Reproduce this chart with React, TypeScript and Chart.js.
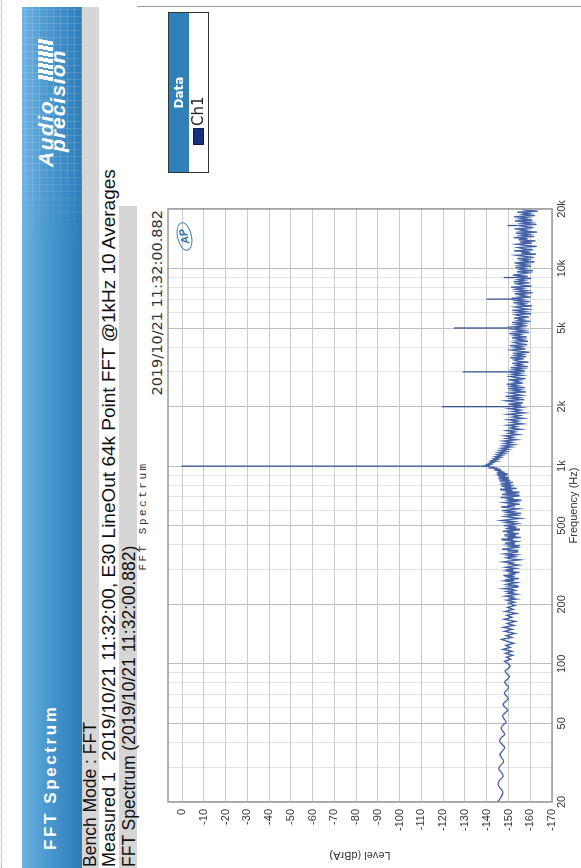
import { useEffect, useRef } from 'react';
import { Chart, registerables } from 'chart.js';

Chart.register(...registerables);

// ---------- axis definitions ----------
const freqTicks = [20, 50, 100, 200, 500, 1000, 2000, 5000, 10000, 20000];
const freqTickLabels = ['20', '50', '100', '200', '500', '1k', '2k', '5k', '10k', '20k'];
const freqMinorGrid = [30, 40, 60, 70, 80, 90, 300, 400, 600, 700, 800, 900, 3000, 4000, 6000, 7000, 8000, 9000];
const levelTicks = [-170, -160, -150, -140, -130, -120, -110, -100, -90, -80, -70, -60, -50, -40, -30, -20, -10, 0];
const levelMin = -170;
const levelMax = 6.5;

// ---------- spectrum (Hz, dBrA) ----------
const band20to100: [number, number][] = [
  [20, -145.0], [21.2, -146.6], [22.4, -147.4], [23.5, -146.2], [24.6, -145.2], [25.8, -146.0], [27.0, -147.5],
  [28.2, -146.8], [29.4, -145.6], [30.6, -146.3], [32.0, -147.8], [33.4, -146.9], [34.8, -146.1], [36.2, -147.2],
  [37.7, -148.2], [39.2, -147.0], [40.8, -145.9], [42.4, -146.8], [44.0, -148.3], [45.6, -147.4], [47.3, -146.6],
  [49.0, -147.5], [50.8, -148.9], [52.6, -148.0], [54.5, -147.3], [56.4, -148.4], [58.4, -149.6], [60.4, -148.3],
  [62.5, -147.6], [64.6, -148.7], [66.8, -149.9], [69.0, -148.9], [71.3, -148.1], [73.7, -149.2], [76.1, -150.1],
  [78.6, -149.0], [81.1, -148.3], [83.7, -149.6], [86.4, -150.4], [89.1, -149.2], [91.9, -148.5], [94.8, -149.9],
  [97.7, -150.8], [100.7, -149.5],
];

const band100to200: [number, number][] = [
  [103, -148.2], [105.5, -151.0], [108, -149.0], [110.5, -152.0], [113, -148.6], [115.7, -151.6], [118.4, -147.5],
  [121.2, -150.8], [124, -148.8], [127, -152.4], [130, -149.3], [133, -146.8], [136, -151.5], [139, -149.0],
  [142.5, -153.0], [146, -148.2], [149.5, -151.8], [153, -147.6], [156.5, -152.5], [160, -149.4], [164, -153.2],
  [168, -148.0], [172, -151.6], [176, -149.2], [180, -153.6], [184, -148.5], [188.5, -152.2], [193, -149.6],
  [197.5, -153.0],
];

const band200to500: [number, number][] = [
  [202.5, -150.2], [205, -152.8], [207.5, -151.0], [210, -149.2], [212.5, -153.6], [215, -150.8], [217.5, -152.2],
  [220, -148.6], [222.5, -151.4], [225, -154.0], [227.5, -150.0], [230, -151.8], [232.5, -149.4], [235, -153.2],
  [237.5, -152.0], [240, -147.8], [242.5, -151.6], [245, -154.4], [247.5, -150.6], [250, -152.4], [252.5, -149.0],
  [255, -150.8], [257.5, -153.8], [260, -151.2], [262.5, -148.4], [265, -152.6], [267.5, -150.4], [270, -154.8],
  [272.5, -151.0], [275, -149.6], [277.5, -152.8], [280, -147.6], [282.5, -151.4], [285, -153.0], [287.5, -150.2],
  [290, -155.0], [292.5, -151.8], [295, -149.2], [297.5, -152.2], [300, -150.0],
  [304, -153.4], [308, -148.8], [312, -151.6], [316, -154.6], [320, -150.4], [324, -152.0], [328, -147.6],
  [332, -151.2], [336, -155.2], [340, -150.8], [344, -149.0], [348, -152.8], [352, -150.0], [356, -153.6],
  [360, -148.2], [364, -151.4], [368, -154.2], [372, -149.6], [376, -152.4], [380, -147.0], [384, -150.6],
  [388, -153.8], [392, -151.0], [396, -155.4], [400, -149.8], [404, -152.6], [408, -148.4], [412, -150.8],
  [416, -154.0], [420, -151.6], [424, -146.8], [428, -152.2], [432, -149.4], [436, -155.6], [440, -150.4],
  [444, -153.0], [448, -148.0], [452, -151.8], [456, -154.8], [460, -149.2], [464, -152.4], [468, -147.4],
  [472, -150.6], [476, -155.0], [480, -151.2], [484, -148.6], [488, -153.4], [492, -150.0], [496, -152.8],
  [500, -147.8],
];

const band500to1k: [number, number][] = [
  [506, -151.6], [512, -154.2], [518, -149.0], [525, -152.6], [531, -146.8], [538, -150.8], [544, -155.4],
  [551, -151.0], [557, -148.4], [564, -153.6], [570, -150.2], [577, -155.8], [583, -149.6], [590, -152.0],
  [596, -147.2], [603, -151.4], [609, -154.6], [616, -150.0], [622, -146.6], [629, -152.8], [635, -149.4],
  [642, -155.2], [648, -151.0], [655, -148.0], [661, -153.4], [668, -150.6], [674, -156.0], [681, -149.2],
  [687, -152.4], [694, -146.4], [700, -151.2], [707, -154.8], [713, -149.8], [720, -147.0], [726, -152.6],
  [733, -150.0], [739, -155.0], [746, -148.6], [752, -151.8], [759, -146.2], [765, -150.4], [772, -153.8],
  [778, -148.2], [785, -151.0], [791, -146.8], [798, -152.4],
  [806, -148.0], [813, -150.6], [820, -146.4], [827, -152.0], [834, -148.8], [841, -145.8], [848, -150.8],
  [855, -147.4], [862, -149.6], [869, -145.4], [876, -150.2], [883, -147.0], [890, -148.6], [897, -145.0],
  [904, -149.4], [911, -146.4], [918, -147.8], [925, -144.6], [932, -148.2], [939, -145.8], [946, -146.6],
  [953, -143.8], [960, -146.0], [966, -144.2], [972, -144.8], [978, -142.6], [983, -143.4], [988, -141.4],
  [992, -140.8], [995, -139.6], [998, -138.4], [1000, -137.0],
];

const band1kto2k: [number, number][] = [
  [1004, -139.2], [1010, -140.8], [1017, -140.2], [1025, -142.0], [1033, -141.4], [1042, -143.0], [1051, -141.8],
  [1061, -144.2], [1071, -142.6], [1082, -145.0], [1093, -143.4], [1105, -146.2], [1117, -144.0], [1130, -147.0],
  [1143, -144.8], [1157, -148.2], [1171, -145.4], [1186, -149.0], [1201, -146.2], [1217, -150.0], [1233, -146.8],
  [1250, -151.2], [1267, -147.6], [1285, -152.4], [1303, -148.2], [1322, -151.6], [1341, -147.8], [1361, -153.6],
  [1381, -149.0], [1402, -152.2], [1423, -148.4], [1445, -154.6], [1467, -150.2], [1490, -153.0], [1513, -149.2],
  [1537, -155.6], [1561, -150.8], [1586, -153.8], [1611, -149.6], [1637, -156.4], [1663, -151.4], [1690, -154.6],
  [1717, -150.0], [1745, -156.8], [1773, -151.8], [1802, -155.2], [1831, -149.8], [1861, -157.2], [1891, -152.0],
  [1922, -155.6], [1953, -150.4], [1985, -156.0],
];

const band2kto5k: [number, number][] = [
  [2010, -151.0], [2036, -155.8], [2062, -150.2], [2089, -156.6], [2116, -152.4], [2143, -149.0], [2171, -157.2],
  [2199, -151.6], [2227, -154.8], [2256, -148.6], [2285, -156.0], [2315, -153.0], [2345, -150.4], [2375, -158.0],
  [2406, -152.0], [2437, -155.4], [2468, -149.8], [2500, -157.4], [2532, -151.2], [2565, -154.0], [2598, -149.2],
  [2632, -156.8], [2666, -152.6], [2700, -155.0], [2735, -150.0], [2770, -157.8], [2806, -153.4], [2842, -150.8],
  [2879, -156.2], [2916, -151.8], [2954, -155.6], [2992, -150.6],
  [3030, -157.6], [3069, -152.2], [3109, -156.4], [3149, -151.0], [3190, -158.8], [3231, -153.6], [3273, -155.8],
  [3315, -151.8], [3358, -159.2], [3401, -154.0], [3445, -152.6], [3490, -157.0], [3535, -150.8], [3581, -158.2],
  [3627, -153.2], [3674, -156.6], [3721, -152.0], [3769, -159.6], [3818, -154.6], [3867, -151.4], [3917, -157.8],
  [3968, -153.0], [4019, -156.0], [4071, -150.6], [4124, -158.6], [4177, -154.2], [4231, -152.4], [4286, -159.0],
  [4341, -153.8], [4397, -156.8], [4454, -151.6], [4512, -158.4], [4570, -152.8], [4629, -155.4], [4689, -150.4],
  [4750, -159.4], [4811, -153.6], [4873, -157.2], [4936, -152.2], [5000, -156.0],
];

const band5kto10k: [number, number][] = [
  [5065, -152.0], [5130, -158.6], [5197, -153.4], [5264, -157.0], [5332, -151.6], [5401, -160.0], [5471, -154.4],
  [5541, -156.8], [5613, -152.6], [5686, -159.4], [5759, -155.0], [5834, -153.2], [5909, -160.4], [5985, -154.0],
  [6063, -157.6], [6141, -151.8], [6220, -159.0], [6301, -155.6], [6382, -153.0], [6465, -160.8], [6548, -154.8],
  [6633, -157.4], [6719, -152.2], [6806, -159.8], [6894, -153.6], [6983, -156.4], [7073, -151.4], [7165, -160.2],
  [7257, -155.2], [7351, -157.8], [7446, -152.8], [7542, -161.0], [7640, -154.2], [7739, -158.2], [7839, -153.4],
  [7940, -156.6], [8042, -151.2], [8146, -160.6], [8252, -155.8], [8358, -153.8], [8466, -159.6], [8576, -152.4],
  [8687, -157.2], [8799, -154.6], [8913, -160.4], [9028, -153.0], [9145, -158.8], [9263, -152.0], [9383, -156.2],
  [9504, -159.2], [9627, -153.8], [9751, -161.2], [9877, -155.4], [10005, -157.6],
];

const band10kto20k: [number, number][] = [
  [10134, -153.2], [10265, -160.4], [10398, -155.0], [10532, -158.6], [10668, -152.8], [10806, -162.0],
  [10946, -156.2], [11087, -159.0], [11231, -154.0], [11376, -161.6], [11523, -157.0], [11672, -153.6],
  [11823, -162.6], [11976, -155.8], [12130, -159.8], [12287, -152.6], [12446, -161.2], [12607, -156.6],
  [12770, -154.4], [12935, -163.0], [13102, -157.4], [13271, -153.8], [13442, -160.8], [13616, -155.2],
  [13792, -162.4], [13970, -154.6], [14151, -158.8], [14334, -152.4], [14519, -161.8], [14706, -156.0],
  [14896, -159.4], [15089, -153.4], [15284, -163.2], [15481, -155.6], [15681, -158.2], [15884, -152.8],
  [16089, -161.4], [16297, -157.8], [16508, -154.2], [16721, -162.8], [16937, -156.4], [17156, -160.2],
  [17378, -153.0], [17602, -161.0], [17830, -155.4], [18060, -158.6], [18293, -152.6], [18530, -162.2],
  [18769, -156.8], [19012, -159.6], [19257, -154.0], [19506, -163.4], [19758, -157.2], [20000, -156.0],
];

// fundamental + harmonic / spurious lines
const harmonicHz = [1000, 2000, 3000, 5000, 7000, 9000, 16500];
const harmonicPeakDb = [0.3, -119.4, -129.0, -124.9, -140.0, -147.8, -149.6];
const harmonicBaseDb = [-137.0, -151.0, -152.0, -152.0, -153.0, -153.0, -154.0];

const traceColor = '#4160a6';

const toXY = (arr: [number, number][]) => arr.map(([x, y]) => ({ x, y }));

const framePlugin = {
  id: 'frame',
  afterDraw(chart: any) {
    const { ctx, chartArea } = chart;
    const { left, top, right, bottom } = chartArea;
    ctx.save();
    ctx.strokeStyle = '#9c9c9c';
    ctx.lineWidth = 1.5;
    ctx.strokeRect(left, top, right - left, bottom - top);
    ctx.restore();
  },
};

export default function App() {
  const canvasRef = useRef<HTMLCanvasElement | null>(null);

  useEffect(() => {
    if (!canvasRef.current) return;
    Chart.defaults.font.family = '"Liberation Sans", Arial, sans-serif';
    const mainTrace = [
      band20to100[band20to100.length - 1],
      ...band100to200,
      ...band200to500,
      ...band500to1k,
      ...band1kto2k,
      ...band2kto5k,
      ...band5kto10k,
      ...band10kto20k,
    ];
    const harmonicSets = harmonicHz.map((hz, i) => ({
      data: [
        { x: hz, y: harmonicBaseDb[i] },
        { x: hz, y: harmonicPeakDb[i] },
      ],
      borderColor: '#3a5596',
      borderWidth: 1.3,
      pointRadius: 0,
      tension: 0,
    }));
    const allFreqGrid = [...freqTicks, ...freqMinorGrid].sort((a, b) => a - b);

    const chart = new Chart(canvasRef.current, {
      type: 'line',
      data: {
        datasets: [
          {
            data: toXY(band20to100),
            borderColor: traceColor,
            borderWidth: 1.3,
            pointRadius: 0,
            tension: 0.4,
          },
          {
            data: toXY(mainTrace),
            borderColor: traceColor,
            borderWidth: 1.35,
            pointRadius: 0,
            tension: 0,
          },
          ...harmonicSets,
        ] as any,
      },
      options: {
        animation: false,
        responsive: false,
        maintainAspectRatio: false,
        events: [],
        layout: { padding: { left: 0, right: 31, top: 28, bottom: 0 } },
        plugins: {
          legend: { display: false },
          tooltip: { enabled: false },
          title: { display: false },
        },
        scales: {
          x: {
            type: 'logarithmic',
            position: 'bottom',
            min: 20,
            max: 20000,
            afterBuildTicks: (s: any) => {
              s.ticks = allFreqGrid.map((v) => ({ value: v }));
            },
            afterFit: (s: any) => {
              s.height = 29;
            },
            ticks: {
              autoSkip: false,
              maxRotation: 0,
              minRotation: 0,
              padding: 3,
              color: '#333',
              font: { size: 11 },
              callback: (v: any) => {
                const i = freqTicks.indexOf(Number(v));
                return i >= 0 ? freqTickLabels[i] : '';
              },
            },
            grid: {
              drawTicks: false,
              lineWidth: 1,
              color: (c: any) => (freqTicks.includes(c.tick?.value) ? '#bdbdbd' : '#e4e4e4'),
            },
            border: { display: false },
            title: {
              display: true,
              text: 'Frequency (Hz)',
              color: '#333',
              font: { size: 11 },
              padding: { top: 0, bottom: 0 },
            },
          },
          y: {
            type: 'linear',
            min: levelMin,
            max: levelMax,
            afterBuildTicks: (s: any) => {
              s.ticks = levelTicks.map((v) => ({ value: v }));
            },
            afterFit: (s: any) => {
              s.width = 66;
            },
            ticks: {
              autoSkip: false,
              padding: 7,
              color: '#333',
              font: { size: 11 },
            },
            grid: { drawTicks: false, color: '#cbcbcb', lineWidth: 1 },
            border: { display: false },
            title: {
              display: true,
              text: 'Level (dBrA)',
              color: '#333',
              font: { size: 11 },
              padding: { top: 6, bottom: 0 },
            },
          },
        },
      } as any,
      plugins: [framePlugin],
    });
    return () => chart.destroy();
  }, []);

  const headerFont = '"Liberation Sans", Arial, sans-serif';
  const wideFont = '"DejaVu Sans", Verdana, sans-serif';

  return (
    <div style={{ position: 'fixed', left: 0, top: 0, width: 581, height: 868, overflow: 'hidden', background: '#fff' }}>
      <div
        style={{
          position: 'absolute',
          left: 0,
          top: 0,
          width: 868,
          height: 581,
          transformOrigin: '0 0',
          transform: 'translateY(868px) rotate(-90deg)',
          fontFamily: headerFont,
          color: '#111',
          background: '#fff',
        }}
      >
        {/* dotted page edge */}
        <div style={{ position: 'absolute', left: 0, top: 1, width: 868, height: 0, borderTop: '1px dotted #aaa' }} />

        {/* blue banner */}
        <div
          style={{
            position: 'absolute',
            left: 0,
            top: 22,
            width: 861,
            height: 60,
            background: 'linear-gradient(to bottom, #6fb2de 0%, #4b99d0 40%, #2d7db9 100%)',
          }}
        />
        <div
          style={{
            position: 'absolute',
            left: 620,
            top: 22,
            width: 241,
            height: 60,
            backgroundImage:
              'repeating-linear-gradient(90deg, rgba(255,255,255,0.14) 0 1px, transparent 1px 7px), repeating-linear-gradient(0deg, rgba(255,255,255,0.14) 0 1px, transparent 1px 7px)',
            WebkitMaskImage: 'linear-gradient(to right, transparent 0%, #000 35%)',
            maskImage: 'linear-gradient(to right, transparent 0%, #000 35%)',
          }}
        />
        <div
          style={{
            position: 'absolute',
            left: 18,
            top: 41,
            fontSize: 17,
            lineHeight: '19px',
            fontWeight: 'bold',
            letterSpacing: 2.6,
            color: '#fff',
            whiteSpace: 'nowrap',
          }}
        >
          FFT Spectrum
        </div>

        {/* Audio Precision logo */}
        <div
          style={{
            position: 'absolute',
            left: 701,
            top: 35,
            fontSize: 21,
            lineHeight: '21px',
            fontStyle: 'italic',
            fontWeight: 'bold',
            letterSpacing: 1.5,
            color: '#fff',
            whiteSpace: 'nowrap',
          }}
        >
          Audio
        </div>
        <div
          style={{
            position: 'absolute',
            left: 788,
            top: 38,
            width: 40,
            height: 15,
            backgroundImage: 'repeating-linear-gradient(90deg, #fff 0 4px, transparent 4px 6px)',
            transform: 'skewX(-12deg)',
          }}
        />
        <div
          style={{
            position: 'absolute',
            left: 716,
            top: 47,
            fontSize: 21,
            lineHeight: '21px',
            fontStyle: 'italic',
            fontWeight: 'bold',
            letterSpacing: 1,
            color: '#fff',
            whiteSpace: 'nowrap',
          }}
        >
          precision
        </div>

        {/* info strips */}
        <div style={{ position: 'absolute', left: 0, top: 82, width: 861, height: 17, background: '#d6d6d6' }} />
        <div style={{ position: 'absolute', left: 1, top: 82, fontSize: 17.5, lineHeight: '17px', whiteSpace: 'nowrap' }}>
          Bench Mode : FFT
        </div>
        <div style={{ position: 'absolute', left: 1, top: 99.5, fontSize: 19, lineHeight: '17px', whiteSpace: 'nowrap' }}>
          <span style={{ display: 'inline-block', width: 106, fontSize: 18 }}>Measured 1</span>
          2019/10/21 11:32:00, E30 LineOut 64k Point FFT @1kHz 10 Averages
        </div>
        <div style={{ position: 'absolute', left: 0, top: 119, width: 662, height: 18, background: '#d6d6d6' }} />
        <div style={{ position: 'absolute', left: 1, top: 120.5, fontSize: 17.5, lineHeight: '17px', whiteSpace: 'nowrap' }}>
          FFT Spectrum (2019/10/21 11:32:00.882)
        </div>

        {/* page right rule */}
        <div style={{ position: 'absolute', left: 861, top: 137, width: 1, height: 444, background: '#999' }} />

        {/* chart title + timestamp */}
        <div
          style={{
            position: 'absolute',
            left: 252,
            top: 138,
            width: 200,
            textAlign: 'center',
            fontFamily: '"Liberation Mono", "Courier New", monospace',
            fontSize: 11,
            lineHeight: '11px',
            letterSpacing: 2.5,
            color: '#333',
            whiteSpace: 'nowrap',
          }}
        >
          FFT Spectrum
        </div>
        <div
          style={{
            position: 'absolute',
            left: 358,
            top: 150,
            width: 300,
            textAlign: 'right',
            fontFamily: wideFont,
            fontSize: 14.5,
            lineHeight: '15px',
            color: '#333',
            whiteSpace: 'nowrap',
          }}
        >
          2019/10/21 11:32:00.882
        </div>

        {/* chart */}
        <canvas
          ref={canvasRef}
          width={690}
          height={441}
          style={{ position: 'absolute', left: 0, top: 140, width: 690, height: 441 }}
        />

        {/* AP mark inside plot */}
        <div
          style={{
            position: 'absolute',
            left: 617,
            top: 177,
            width: 27,
            height: 13,
            border: '1.5px solid #3b7dc2',
            borderRadius: '50%',
            transform: 'rotate(-12deg)',
            textAlign: 'center',
            fontSize: 11,
            lineHeight: '13px',
            fontStyle: 'italic',
            fontWeight: 'bold',
            color: '#2f6fb5',
          }}
        >
          AP
        </div>

        {/* legend */}
        <div
          style={{
            position: 'absolute',
            left: 695,
            top: 168,
            width: 161,
            height: 41,
            boxSizing: 'border-box',
            border: '1px solid #333',
            background: '#fff',
            fontFamily: wideFont,
          }}
        >
          <div
            style={{
              position: 'absolute',
              left: 0,
              top: 0,
              width: 159,
              height: 20,
              background: '#2f80b8',
              color: '#fff',
              fontWeight: 'bold',
              fontSize: 12,
              lineHeight: '20px',
              textAlign: 'center',
            }}
          >
            Data
          </div>
          <div
            style={{
              position: 'absolute',
              left: 27,
              top: 24,
              width: 17,
              height: 11,
              boxSizing: 'border-box',
              background: '#16307e',
              border: '1px solid #0b1c50',
            }}
          />
          <div style={{ position: 'absolute', left: 46, top: 22, fontSize: 15, lineHeight: '15px', color: '#222' }}>Ch1</div>
        </div>
      </div>
    </div>
  );
}
